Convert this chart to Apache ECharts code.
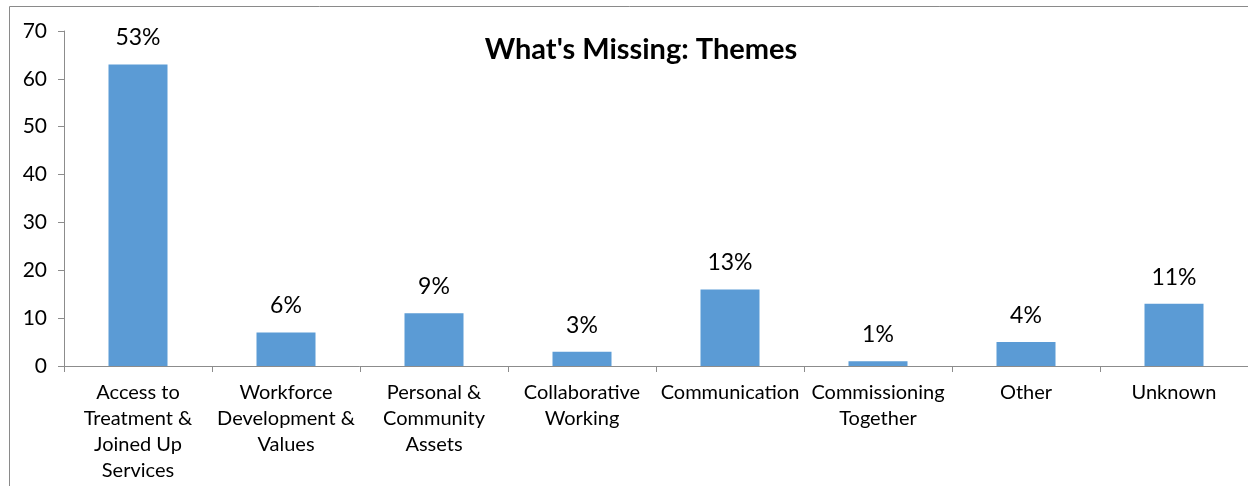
<!DOCTYPE html>
<html>
<head>
<meta charset="utf-8">
<script src="https://cdn.jsdelivr.net/npm/echarts@6/dist/echarts.min.js"></script>
<style>
  html, body { margin: 0; padding: 0; background: #fff; }
  #chart { width: 1248px; height: 486px; }
</style>
</head>
<body>
<div id="chart"></div>
<script>
// Themes and the number of responses for each
const categories = [
  'Access to\nTreatment &\nJoined Up\nServices',
  'Workforce\nDevelopment &\nValues',
  'Personal &\nCommunity\nAssets',
  'Collaborative\nWorking',
  'Communication',
  'Commissioning\nTogether',
  'Other',
  'Unknown'
];
const counts = [63, 7, 11, 3, 16, 1, 5, 13];
const yTicks = [0, 10, 20, 30, 40, 50, 60, 70];

const total = counts.reduce((a, b) => a + b, 0);
const FONT = 'Lato, "Open Sans", sans-serif';
const AXIS = '#8c8c8c';

const chart = echarts.init(document.getElementById('chart'));
chart.setOption({
  animation: false,
  title: {
    text: "What's Missing: Themes",
    left: 636,
    textAlign: 'center',
    top: 30,
    textStyle: { fontFamily: FONT, fontWeight: 'bold', fontSize: 29, color: '#000' }
  },
  graphic: [{
    type: 'rect',
    shape: { x: 9.5, y: 6.5, width: 1300, height: 600 },
    style: { fill: 'none', stroke: '#8a8a8a', lineWidth: 1 },
    silent: true,
    z: -1
  }],
  grid: { left: 64, right: 0, top: 31, bottom: 120 },
  xAxis: {
    type: 'category',
    data: categories,
    axisLine: { lineStyle: { color: AXIS } },
    axisTick: { show: true, length: 6, lineStyle: { color: AXIS } },
    axisLabel: {
      interval: 0,
      margin: 14,
      fontFamily: FONT,
      fontSize: 20,
      lineHeight: 26,
      color: '#000'
    }
  },
  yAxis: {
    type: 'value',
    min: yTicks[0],
    max: yTicks[yTicks.length - 1],
    interval: 10,
    splitLine: { show: false },
    axisLine: { show: true, lineStyle: { color: AXIS } },
    axisTick: { show: true, length: 6, lineStyle: { color: AXIS } },
    axisLabel: { margin: 17, fontFamily: FONT, fontSize: 21, color: '#000' }
  },
  series: [{
    type: 'bar',
    data: counts,
    barWidth: 59,
    itemStyle: { color: '#5b9bd5' },
    label: {
      show: true,
      position: 'top',
      distance: 15,
      fontFamily: FONT,
      fontSize: 23,
      color: '#000',
      formatter: p => Math.round(p.value / total * 100) + '%'
    }
  }]
});
</script>
</body>
</html>
